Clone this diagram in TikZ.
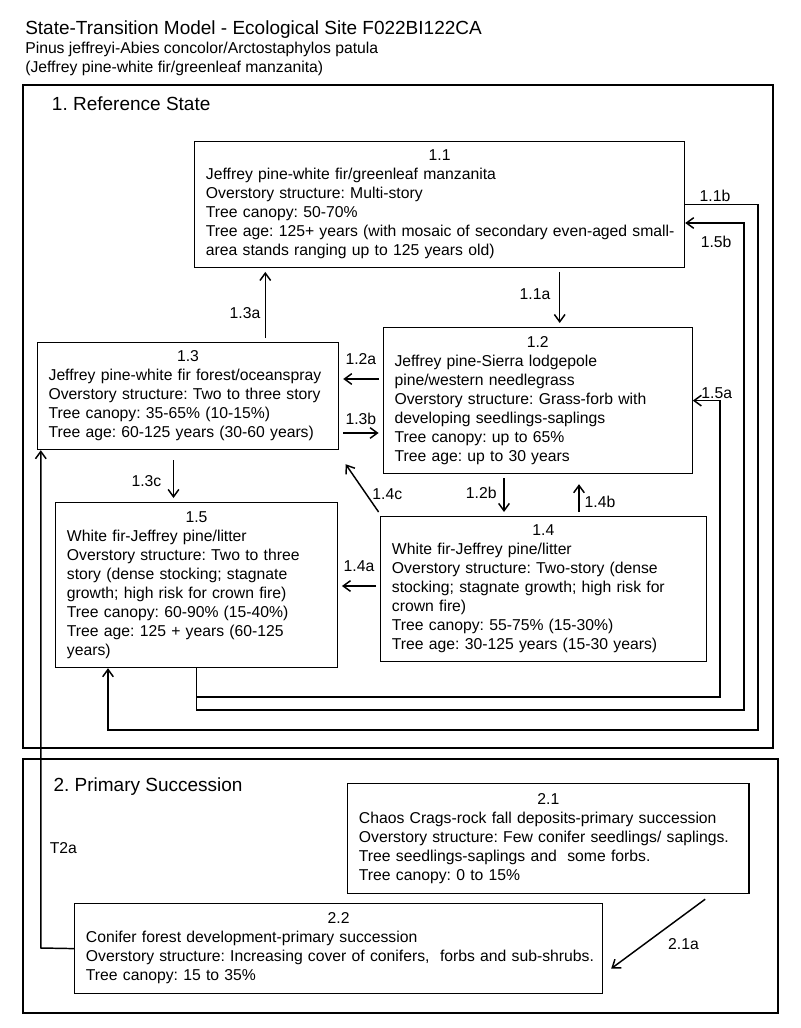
\documentclass[tikz,border=0pt]{standalone}
\usepackage{fontspec}
\setmainfont{Liberation Sans}
\frenchspacing
\usetikzlibrary{arrows.meta}

\begin{document}
\begin{tikzpicture}[x=0.75pt,y=0.75pt,yscale=-1,xscale=1,
	stbox/.style={draw,line width=0.9pt,anchor=north west,align=left,inner xsep=8.5pt,inner ysep=1pt,font=\fontsize{11.8}{14.25}\selectfont},
	tr/.style={line width=1.1pt,-{Straight Barb[length=5.5pt,width=8pt]},shorten <=3pt,shorten >=3pt},
	route/.style={line width=1.1pt,-{Straight Barb[length=5.5pt,width=8pt]}},
	lbl/.style={inner sep=1pt,font=\fontsize{11.8}{14.25}\selectfont},
	head/.style={anchor=base west,inner sep=0pt,font=\fontsize{14.25}{17}\selectfont},
	subhead/.style={anchor=base west,inner sep=0pt,font=\fontsize{11.8}{14.25}\selectfont},
	frame/.style={line width=1.5pt}]
	\useasboundingbox (0,0) rectangle (800,1028);

	\draw (25,34.3) node [head] (title) {State-Transition Model - Ecological Site F022BI122CA};
	\draw (25,53.3) node [subhead] (sub1) {Pinus jeffreyi-Abies concolor/Arctostaphylos patula};
	\draw (25,72.7) node [subhead] (sub2) {(Jeffrey pine-white fir/greenleaf manzanita)};

	\draw [frame] (22.7,85) rectangle (773,748);
	\draw [frame] (22.7,759) rectangle (778,1013);
	\draw (51.7,110) node [head] (st1) {1. Reference State};
	\draw (53.3,791.5) node [head] (st2) {2. Primary Succession};

	\draw (194,140.7) node [stbox,text width=350.5pt,minimum height=94.5pt] (b11) {{\centering 1.1\par}Jeffrey pine-white fir/greenleaf manzanita\\Overstory structure: Multi-story\\Tree canopy: 50-70\%\\\mbox{Tree age: 125+ years (with mosaic of secondary even-aged small-}\\area stands ranging up to 125 years old)};
	\draw (382.6,327) node [stbox,text width=214.75pt,minimum height=109.5pt] (b12) {{\centering 1.2\par}Jeffrey pine-Sierra lodgepole\\pine/western needlegrass\\Overstory structure: Grass-forb with\\developing seedlings-saplings\\Tree canopy: up to 65\%\\Tree age: up to 30 years};
	\draw (36.7,342) node [stbox,text width=209pt,minimum height=80.25pt] (b13) {{\centering 1.3\par}\mbox{Jeffrey pine-white fir forest/oceanspray}\\\mbox{Overstory structure: Two to three story}\\Tree canopy: 35-65\% (10-15\%)\\Tree age: 60-125 years (30-60 years)};
	\draw (380,516) node [stbox,text width=227.2pt,minimum height=108.75pt] (b14) {{\centering 1.4\par}White fir-Jeffrey pine/litter\\Overstory structure: Two-story (dense\\stocking; stagnate growth; high risk for\\crown fire)\\Tree canopy: 55-75\% (15-30\%)\\Tree age: 30-125 years (15-30 years)};
	\draw (55,502) node [stbox,text width=194.3pt,minimum height=123.75pt] (b15) {{\centering 1.5\par}White fir-Jeffrey pine/litter\\Overstory structure: Two to three\\story (dense stocking; stagnate\\growth; high risk for crown fire)\\Tree canopy: 60-90\% (15-40\%)\\Tree age: 125 + years (60-125\\years)};
	\draw (347,783) node [stbox,text width=284.1pt,minimum height=82.5pt] (b21) {{\centering 2.1\par}Chaos Crags-rock fall deposits-primary succession\\Overstory structure: Few conifer seedlings/ saplings.\\Tree seedlings-saplings and~ some forbs.\\Tree canopy: 0 to 15\%};
	\draw (74,903) node [stbox,text width=379pt,minimum height=67.5pt] (b22) {{\centering 2.2\par}Conifer forest development-primary succession\\\mbox{Overstory structure: Increasing cover of conifers,~ forbs and sub-shrubs.}\\Tree canopy: 15 to 35\%};

	\coordinate (x11a) at (559.7,0);
	\coordinate (x13a) at (265.3,0);
	\coordinate (y12a) at (0,379);
	\coordinate (y13b) at (0,433);
	\coordinate (x13c) at (173.5,0);
	\coordinate (x12b) at (504,0);
	\coordinate (x14b) at (579,0);
	\coordinate (y14a) at (0,586);
	\coordinate (l15a) at (720,697);
	\coordinate (l15b) at (744,710);
	\coordinate (l15bt) at (744,223);
	\coordinate (l11b) at (758,730);
	\coordinate (l11bx) at (108,730);
	\coordinate (lt2a) at (40.8,948);

	\draw [tr] (b11.south -| x11a) -- node [lbl,pos=0.45,left=5.5pt] (n11a) {1.1a} (b12.north -| x11a);
	\draw [tr] (b13.north -| x13a) -- node [lbl,pos=0.39,left=2.2pt] (n13a) {1.3a} (b11.south -| x13a);
	\draw [tr] (b12.west |- y12a) -- node [lbl,above=9pt] (n12a) {1.2a} (b13.east |- y12a);
	\draw [tr] (b13.east |- y13b) -- node [lbl,above=4.4pt] (n13b) {1.3b} (b12.west |- y13b);
	\draw [tr,shorten <=7.5pt] (b13.south -| x13c) -- node [lbl,pos=0.6,left=7.6pt] (n13c) {1.3c} (b15.north -| x13c);
	\draw [tr,shorten <=0pt,shorten >=0pt] ([shift={(-1.4,-4)}]b14.north west) -- node [lbl,pos=0.37,right=3pt] (n14c) {1.4c} ([shift={(6.4,14)}]b13.south east);
	\draw [tr] (b12.south -| x12b) -- node [lbl,pos=0.44,left=4pt] (n12b) {1.2b} (b14.north -| x12b);
	\draw [tr,shorten >=7.5pt] (b14.north -| x14b) -- node [lbl,pos=0.33,right=2.75pt] (n14b) {1.4b} (b12.south -| x14b);
	\draw [tr] (b14.west |- y14a) -- node [lbl,above=9pt] (n14a) {1.4a} (b15.east |- y14a);

	\draw [route] (b15.south) |- (l15a) -- (l15a |- b12.east) -- node [lbl,pos=0.12,above=0pt] (n15a) {1.5a} (b12.east);
	\draw [route] (b15.south) |- (l15b) -- (l15bt) -- node [lbl,pos=0.475,below=8.5pt] (n15b) {1.5b} (b11.east |- l15bt);
	\draw [route] (b11.east) -- node [lbl,pos=0.41,above=0.5pt] (n11b) {1.1b} (b11.east -| l11b) -- (l11b) -- (l11bx) -- (b15.south -| l11bx);
	\draw [route] (b22.west) -- (lt2a) -- node [lbl,pos=0.2,right=5.2pt] (nt2a) {T2a} (b13.south -| lt2a);
	\draw [tr,shorten <=0pt,shorten >=0pt] ([shift={(-44.5,5)}]b21.south east) -- node [lbl,pos=0.64,right=15.8pt] (n21a) {2.1a} ([shift={(8,20)}]b22.east);
\end{tikzpicture}
\end{document}
